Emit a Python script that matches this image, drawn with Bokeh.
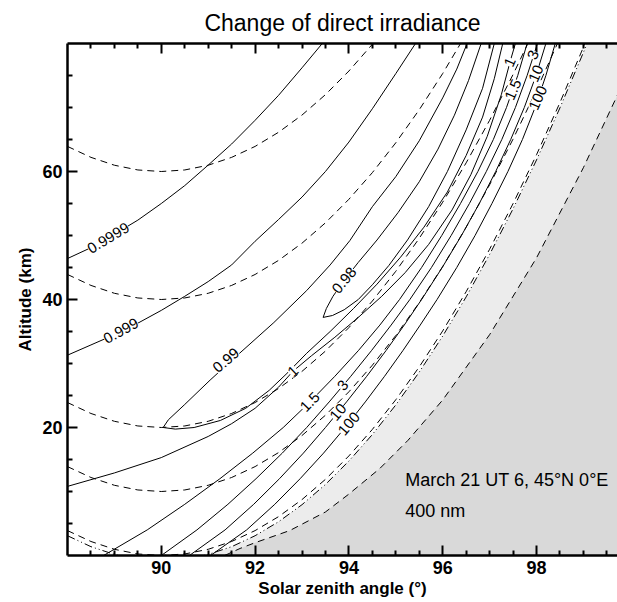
import math
from bokeh.plotting import figure
from bokeh.models import Label, LinearAxis, FixedTicker, Range1d, Title, CustomLabelingPolicy
from bokeh.embed import file_html
from bokeh.resources import INLINE

# ---------------- data ----------------
x_major = [90, 92, 94, 96, 98]
x_minor = [88.5, 89, 89.5, 90.5, 91, 91.5, 92.5, 93, 93.5, 94.5, 95, 95.5,
           96.5, 97, 97.5, 98.5, 99, 99.5]
y_major = [20, 40, 60]
y_minor = [5, 10, 15, 25, 30, 35, 45, 50, 55, 65, 70, 75]

# dashed tangent-altitude curves
ht60_x = [88, 88.5, 89, 89.5, 90, 90.5, 91, 91.5, 92, 92.5, 93, 93.5, 94, 94.5, 95]
ht60_y = [63.92, 62.21, 60.98, 60.24, 60.0, 60.24, 60.98, 62.21, 63.92, 66.13, 68.82, 72.01, 75.70, 79.88, 84.57]
ht40_x = [88, 88.5, 89, 89.5, 90, 90.5, 91, 91.5, 92, 92.5, 93, 93.5, 94, 94.5, 95, 95.5, 96, 96.5]
ht40_y = [43.91, 42.20, 40.97, 40.24, 40.0, 40.24, 40.97, 42.20, 43.91, 46.11, 48.80, 51.98, 55.66, 59.82, 64.49, 69.65, 75.31, 81.48]
ht20_x = [88, 88.5, 89, 89.5, 90, 90.5, 91, 91.5, 92, 92.5, 93, 93.5, 94, 94.5, 95, 95.5, 96, 96.5, 97, 97.5, 98]
ht20_y = [23.90, 22.19, 20.97, 20.24, 20.0, 20.24, 20.97, 22.19, 23.90, 26.09, 28.77, 31.94, 35.61, 39.76, 44.41, 49.56, 55.20, 61.35, 68.00, 75.15, 82.81]
ht10_x = [88, 88.5, 89, 89.5, 90, 90.5, 91, 91.5, 92, 92.5, 93, 93.5, 94, 94.5, 95, 95.5, 96, 96.5, 97, 97.5, 98, 98.5]
ht10_y = [13.89, 12.19, 10.97, 10.24, 10.0, 10.24, 10.97, 12.19, 13.89, 16.08, 18.75, 21.92, 25.58, 29.73, 34.38, 39.51, 45.15, 51.29, 57.92, 65.06, 72.71, 80.87]
ht0_x = [88, 88.5, 89, 89.5, 90, 90.5, 91, 91.5, 92, 92.5, 93, 93.5, 94, 94.5, 95, 95.5, 96, 96.5, 97, 97.5, 98, 98.5, 99, 99.5]
ht0_y = [3.89, 2.19, 0.97, 0.24, 0.0, 0.24, 0.97, 2.19, 3.89, 6.07, 8.74, 11.90, 15.56, 19.70, 24.34, 29.47, 35.09, 41.22, 47.85, 54.98, 62.61, 70.76, 79.42, 88.59]

# dash-dot-dot boundary of the light shading
light_x = [88, 88.5, 89, 89.1, 90.9, 91, 91.5, 92, 92.5, 93, 93.5, 94, 94.5, 95, 95.5, 96, 96.5, 97, 97.5, 98, 98.5, 99, 99.2]
light_y = [3.09, 1.38, 0.17, 0.0, 0.0, 0.17, 1.38, 3.09, 5.27, 7.94, 11.10, 14.76, 18.90, 23.53, 28.66, 34.29, 40.41, 47.04, 54.17, 61.80, 69.95, 78.60, 82.2]
# dashed boundary of the dark shading
dark_x = [91.35, 91.68, 92.0, 92.74, 93.5, 94.0, 94.66, 95.26, 96.0, 97.0, 98.0, 99.0, 99.73, 100.2]
dark_y = [0.0, 1.1, 2.0, 3.9, 6.8, 9.6, 13.6, 18.0, 24.3, 34.5, 46.5, 60.6, 72.0, 78.5]

# solid contour lines
c9999_x = [88, 88.5, 89, 89.5, 90, 90.5, 91, 91.5, 92, 92.5, 93, 93.5]
c9999_y = [46.4, 48.1, 50.2, 52.4, 55.0, 57.8, 61.0, 64.3, 68.0, 71.9, 76.2, 80.6]
c999_x = [88, 88.5, 89, 89.5, 90, 90.5, 91, 91.5, 92, 92.5, 93, 93.5, 94, 94.5, 95, 95.42]
c999_y = [31.3, 32.9, 34.5, 36.3, 38.3, 40.5, 42.8, 45.4, 49.1, 52.5, 56.0, 60.0, 64.6, 69.8, 75.3, 80.0]
# 0.99: upper branch (top -> nose) then lower branch (nose -> top)
c99_x = [96.52, 96.3, 96.0, 95.5, 95.0, 94.5, 94.02, 93.6, 93.1, 92.4, 91.7, 91.04, 90.5, 90.15, 90.04,
         90.3, 90.7, 91.26, 91.8, 92.3, 92.7, 93.1, 93.6, 94.1, 94.6, 95.1, 95.6, 96.1, 96.5, 96.85, 97.1, 97.28]
c99_y = [80.0, 76.0, 71.5, 64.8, 59.2, 54.5, 49.2, 45.4, 41.4, 36.4, 31.8, 27.4, 23.6, 21.2, 20.0,
         19.75, 20.0, 21.1, 23.0, 25.8, 28.6, 31.6, 35.0, 38.6, 42.4, 46.6, 51.3, 56.8, 62.5, 68.5, 74.5, 80.0]
# 0.98: upper branch (top -> nose) then lower branch (nose -> top)
c98_x = [96.82, 96.55, 96.25, 95.9, 95.5, 95.05, 94.6, 94.2, 93.9, 93.66, 93.52, 93.45,
         93.65, 93.9, 94.2, 94.5, 94.85, 95.25, 95.7, 96.1, 96.5, 96.85, 97.1]
c98_y = [80.0, 74.2, 68.8, 63.5, 58.4, 53.6, 49.3, 45.8, 43.0, 40.5, 38.6, 37.2,
         37.5, 38.4, 40.0, 42.3, 45.3, 49.3, 54.5, 60.0, 66.5, 73.0, 80.0]
c1_x = [88, 89, 90, 91, 91.5, 92, 92.5, 92.81, 93.2, 93.7, 94.2, 94.7, 95.2, 95.7, 96.2, 96.6, 96.95, 97.25, 97.45, 97.55]
c1_y = [10.8, 12.9, 15.3, 18.6, 20.6, 23.0, 26.3, 28.8, 31.2, 34.1, 37.2, 40.5, 44.2, 48.6, 54.0, 59.5, 65.5, 72.0, 77.5, 80.0]
lvl_y = [0, 4, 8, 12, 16, 20, 24, 28, 32, 36, 40, 45, 50, 55, 60, 65, 70, 75, 80]
c15_x = [88.77, 89.7, 90.5, 91.25, 91.95, 92.6, 93.17, 93.7, 94.2, 94.66, 95.08, 95.55, 95.98, 96.38, 96.75, 97.08, 97.36, 97.6, 97.8]
c3_x = [90.0, 90.76, 91.42, 92.02, 92.58, 93.1, 93.58, 94.04, 94.48, 94.9, 95.3, 95.76, 96.18, 96.57, 96.93, 97.26, 97.55, 97.8, 98.02]
c10_x = [90.6, 91.36, 91.97, 92.52, 93.03, 93.5, 93.95, 94.38, 94.79, 95.18, 95.55, 95.99, 96.4, 96.78, 97.13, 97.45, 97.74, 97.99, 98.2]
c100_x = [91.05, 91.82, 92.42, 92.96, 93.46, 93.92, 94.35, 94.76, 95.15, 95.52, 95.88, 96.3, 96.69, 97.05, 97.39, 97.7, 97.97, 98.2, 98.4]

# contour labels: text, x, y, angle (deg on screen)
clab_text = ["0.9999", "0.999", "0.99", "0.98", "1", "1.5", "3", "10", "100",
             "1", "1.5", "3", "10", "100"]
clab_x = [88.87, 89.14, 91.38, 93.9, 92.81, 93.17, 93.87, 93.77, 94.0,
          97.43, 97.5, 97.93, 97.99, 98.03]
clab_y = [49.6, 35.1, 30.5, 43.0, 28.8, 24.0, 26.6, 22.4, 20.6,
          77.1, 72.8, 78.2, 75.3, 71.5]
clab_ang = [31, 29, 40, 50, 44, 46, 50, 50, 50, 66, 66, 66, 66, 66]

title_text = "Change of direct irradiance"
xlabel_text = "Solar zenith angle (\u00b0)"
ylabel_text = "Altitude (km)"
note1_text = "March 21 UT 6, 45\u00b0N 0\u00b0E"
note2_text = "400 nm"

# ---------------- figure ----------------
X0, X1 = 88, 99.727
p = figure(width=617, height=602, x_range=Range1d(X0, X1), y_range=Range1d(0, 80),
           output_backend="svg", toolbar_location=None,
           min_border_left=67, min_border_right=0, min_border_top=43,
           min_border_bottom=47)
p.outline_line_color = None
p.grid.visible = False
p.background_fill_color = "white"
p.border_fill_color = "white"

xt = FixedTicker(ticks=x_major, minor_ticks=x_minor)
yt = FixedTicker(ticks=y_major, minor_ticks=y_minor)
top_axis = LinearAxis(ticker=xt)
p.add_layout(top_axis, "above")
p.xaxis.ticker = xt
p.yaxis.ticker = yt
for ax in list(p.xaxis) + list(p.yaxis):
    ax.axis_line_width = 2.5
    ax.axis_line_color = "black"
    ax.major_tick_line_width = 2
    ax.minor_tick_line_width = 2
    ax.major_tick_in = 10
    ax.major_tick_out = 0
    ax.minor_tick_in = 5
    ax.minor_tick_out = 0
    ax.major_label_text_font = "Liberation Sans"
    ax.major_label_text_font_style = "bold"
    ax.major_label_text_font_size = "18px"
    ax.major_label_text_color = "black"
p.xaxis[0].major_label_standoff = 7
p.yaxis[0].major_label_standoff = 5
top_axis.major_label_text_font_size = "1px"
top_axis.major_label_standoff = 0
top_axis.major_label_policy = CustomLabelingPolicy(
    code="for (const i of indices) { indices.unset(i) }\nreturn indices")

# titles
p.title.text = title_text
p.title.align = "center"
p.title.offset = 6
p.title.standoff = 7
p.title.text_font = "Liberation Sans"
p.title.text_font_style = "normal"
p.title.text_font_size = "23px"
p.title.text_color = "black"
p.add_layout(Title(text=xlabel_text, align="center", offset=7, standoff=0,
                   text_font="Liberation Sans", text_font_style="bold",
                   text_font_size="17px", text_color="black"), "below")
p.add_layout(Title(text=ylabel_text, align="center", standoff=10,
                   text_font="Liberation Sans", text_font_style="bold",
                   text_font_size="17px", text_color="black"), "left")

# shading
shade_lx = light_x[4:] + [100.5, 100.5]
shade_ly = light_y[4:] + [85, 0]
p.patch(shade_lx, shade_ly, fill_color="#ececec", line_color=None)
shade_dx = dark_x + [100.5, 100.5]
shade_dy = dark_y + [85, 0]
p.patch(shade_dx, shade_dy, fill_color="#d9d9d9", line_color=None)

DASH = "7 5"
for xs, ys in [(ht60_x, ht60_y), (ht40_x, ht40_y), (ht20_x, ht20_y),
               (ht10_x, ht10_y), (ht0_x, ht0_y), (dark_x, dark_y)]:
    p.line(xs, ys, line_color="black", line_width=1, line_dash=DASH)
p.line(light_x, light_y, line_color="black", line_width=1, line_dash="8 3 1 3 1 3")

for xs, ys in [(c9999_x, c9999_y), (c999_x, c999_y), (c99_x, c99_y), (c98_x, c98_y),
               (c1_x, c1_y), (c15_x, lvl_y), (c3_x, lvl_y), (c10_x, lvl_y),
               (c100_x, lvl_y)]:
    p.line(xs, ys, line_color="black", line_width=1)

for t, x, y, a in zip(clab_text, clab_x, clab_y, clab_ang):
    p.add_layout(Label(x=x, y=y, text=t, angle=math.radians(a),
                       text_align="center", text_baseline="middle",
                       text_font="Liberation Sans", text_font_size="15px",
                       text_color="black", background_fill_color="white"))

p.add_layout(Label(x=95.2, y=11.83, text=note1_text, text_align="left",
                   text_baseline="alphabetic", text_font="Liberation Sans",
                   text_font_size="18px", text_color="black"))
p.add_layout(Label(x=95.2, y=7.03, text=note2_text, text_align="left",
                   text_baseline="alphabetic", text_font="Liberation Sans",
                   text_font_size="18px", text_color="black"))

open("out.html", "w").write(file_html(p, INLINE))
